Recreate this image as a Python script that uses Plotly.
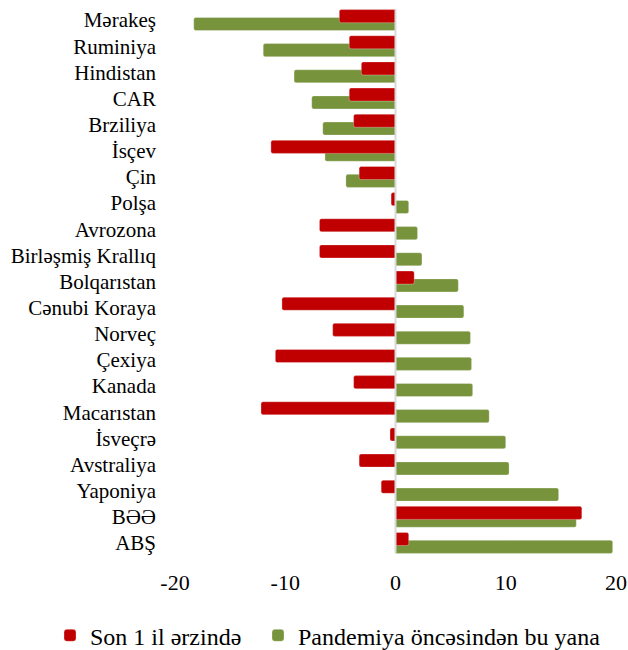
import plotly.graph_objects as go

# Countries, top to bottom
countries = [
    "Mərakeş", "Ruminiya", "Hindistan", "CAR", "Brziliya", "İsçev", "Çin",
    "Polşa", "Avrozona", "Birləşmiş Krallıq", "Bolqarıstan", "Cənubi Koraya",
    "Norveç", "Çexiya", "Kanada", "Macarıstan", "İsveçrə", "Avstraliya",
    "Yaponiya", "BƏƏ", "ABŞ",
]

# Change over the last year (%)
last_year = [
    -5.1, -4.2, -3.1, -4.2, -3.8, -11.3, -3.3,
    -0.4, -6.9, -6.9, 1.7, -10.3,
    -5.7, -10.9, -3.8, -12.2, -0.5, -3.3,
    -1.3, 16.9, 1.2,
]

# Change since before the pandemic (%)
since_pandemic = [
    -18.3, -12.0, -9.2, -7.6, -6.6, -6.4, -4.5,
    1.2, 2.0, 2.4, 5.7, 6.2,
    6.8, 6.9, 7.0, 8.5, 10.0, 10.3,
    14.8, 16.4, 19.7,
]

x_ticks = [-20, -10, 0, 10, 20]

FONT = "'Liberation Serif', 'Times New Roman', Times, serif"
RED = "#C00000"
GREEN = "#77933C"

pos = list(range(len(countries)))

fig = go.Figure()
fig.add_trace(go.Bar(
    name="Pandemiya öncəsindən bu yana",
    x=since_pandemic, y=pos, orientation="h",
    width=0.5, offset=-0.1,
    marker=dict(color=GREEN, line=dict(color="rgba(255,255,255,0.6)", width=0.5)),
    legend="legend2",
))
fig.add_trace(go.Bar(
    name="Son 1 il ərzində",
    x=last_year, y=pos, orientation="h",
    width=0.5, offset=-0.4,
    marker=dict(color=RED, line=dict(color="rgba(255,255,255,0.6)", width=0.5)),
    legend="legend",
))

# vertical axis line at zero, drawn over the bars
fig.add_shape(type="line", xref="x", yref="paper", x0=0, x1=0, y0=0.005, y1=0.995,
              line=dict(color="#d9d9d9", width=2), layer="above")

legend_common = dict(
    orientation="h", xref="container", yref="container",
    xanchor="left", y=0.022, yanchor="middle",
    font=dict(family=FONT, size=24, color="#000000"),
    bgcolor="rgba(0,0,0,0)",
)

fig.update_layout(
    width=628, height=650,
    margin=dict(l=175, r=12, t=7, b=94, autoexpand=False),
    paper_bgcolor="white", plot_bgcolor="white",
    barmode="overlay", barcornerradius=2,
    font=dict(family=FONT, size=21, color="#000000"),
    showlegend=True,
    legend=dict(x=50 / 628, **legend_common),
    legend2=dict(x=258 / 628, **legend_common),
)
fig.update_xaxes(
    range=[-20, 20], tickvals=x_ticks, ticktext=[str(v) for v in x_ticks],
    showgrid=False, zeroline=False, showline=False, ticks="", automargin=False,
    ticklabeloverflow="allow",
    ticklabelstandoff=11, tickfont=dict(family=FONT, size=22),
)
fig.update_yaxes(
    range=[len(countries) - 0.5, -0.5], tickvals=pos, ticktext=countries,
    showgrid=False, zeroline=False, showline=False, ticks="", automargin=False,
    ticklabelstandoff=18, tickfont=dict(family=FONT, size=21),
)

fig.write_html("out.html")
